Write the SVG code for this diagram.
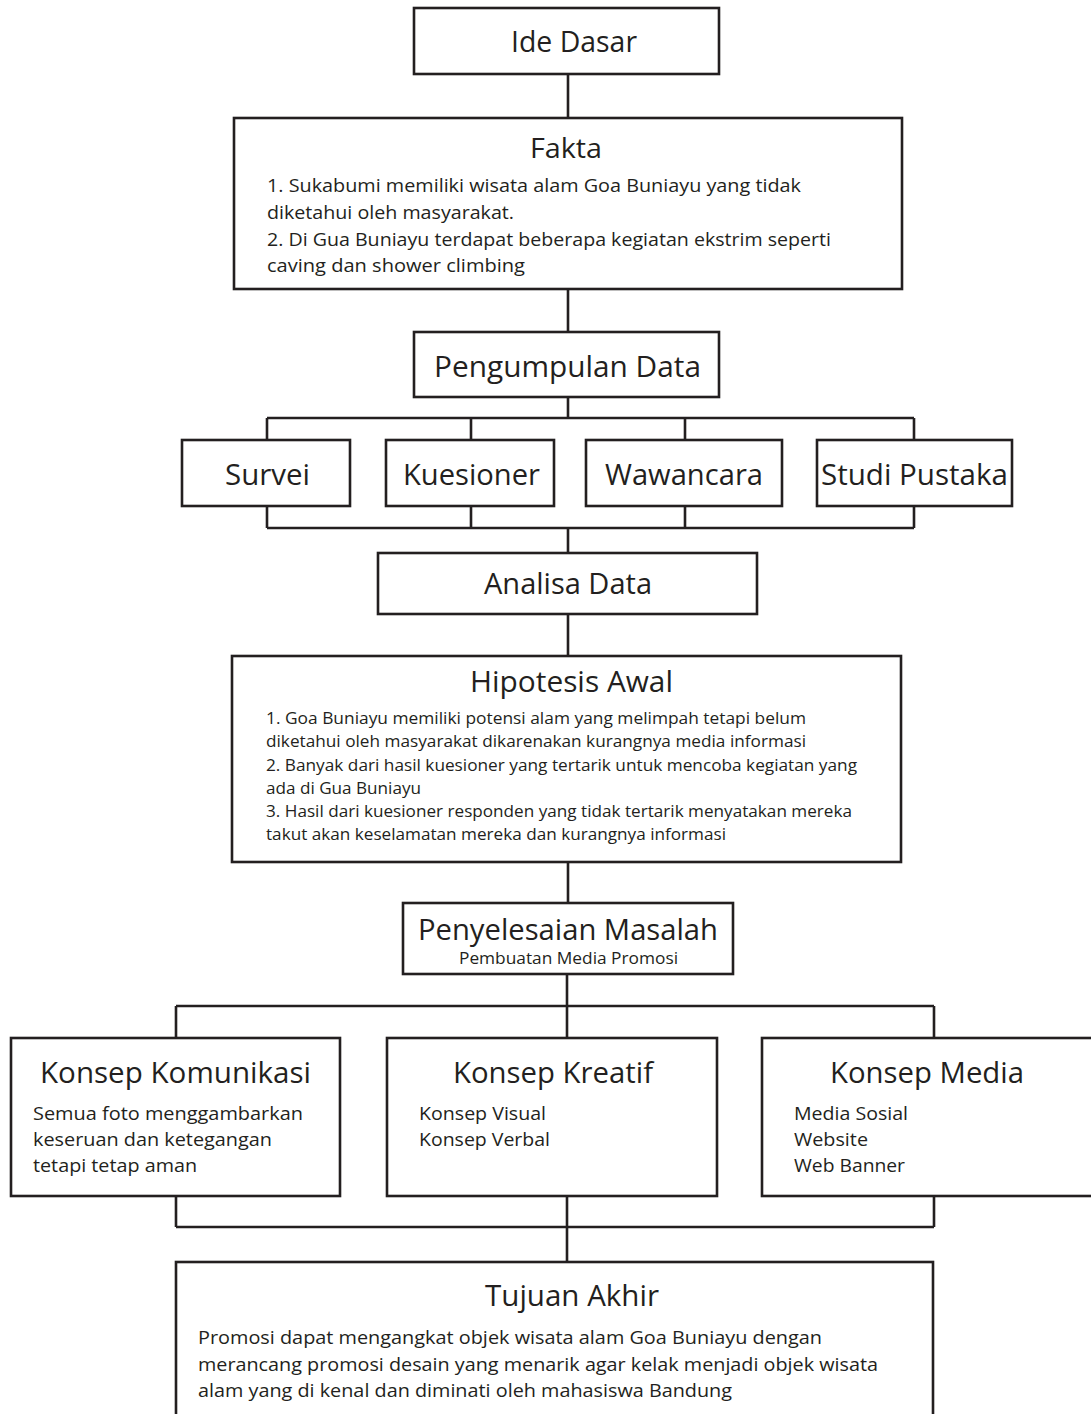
<svg xmlns="http://www.w3.org/2000/svg" width="1091" height="1414" viewBox="0 0 1091 1414">
<style>
rect.box{fill:#fff;stroke:#231f20;stroke-width:2.6}
#connectors path{fill:none;stroke:#231f20;stroke-width:2.6}
text{font-family:"Open Sans","Noto Sans","Liberation Sans",sans-serif;fill:#231f20}
.t{font-size:30px}
.t2{font-size:28px}
.b{font-size:19px}
.s{font-size:17px}
.sub{font-size:16px}
</style>
<rect width="1091" height="1414" fill="#fff"/>
<g id="connectors">
<path d="M568 74V118M568 289V332M568 397V418M267 418H914M267 418V440M471 418V440M685 418V440M914 418V440M267 506V528M471 506V528M685 506V528M914 506V528M267 528H914M568 528V553M568 614V656M568 862V903M567 974V1006M176 1006H934M176 1006V1038M567 1006V1038M934 1006V1038M176 1196V1227M567 1196V1227M934 1196V1227M176 1227H934M567 1227V1262"/>
</g>
<g id="ide-dasar"><rect class="box" x="414" y="8" width="305" height="66"/><text class="t" x="511" y="52" textLength="126" lengthAdjust="spacingAndGlyphs">Ide Dasar</text></g>
<g id="fakta"><rect class="box" x="234" y="118" width="668" height="171"/>
<text class="t2" x="530" y="158" textLength="72" lengthAdjust="spacingAndGlyphs">Fakta</text>
<text class="b" x="267" y="192" textLength="534" lengthAdjust="spacingAndGlyphs">1. Sukabumi memiliki wisata alam Goa Buniayu yang tidak</text>
<text class="b" x="267" y="219" textLength="247" lengthAdjust="spacingAndGlyphs">diketahui oleh masyarakat.</text>
<text class="b" x="267" y="246" textLength="564" lengthAdjust="spacingAndGlyphs">2. Di Gua Buniayu terdapat beberapa kegiatan ekstrim seperti</text>
<text class="b" x="267" y="272" textLength="258" lengthAdjust="spacingAndGlyphs">caving dan shower climbing</text></g>
<g id="pengumpulan-data"><rect class="box" x="414" y="332" width="305" height="65"/><text class="t" x="434" y="377" textLength="267" lengthAdjust="spacingAndGlyphs">Pengumpulan Data</text></g>
<g id="survei"><rect class="box" x="182" y="440" width="168" height="66"/><text class="t" x="225" y="485" textLength="85" lengthAdjust="spacingAndGlyphs">Survei</text></g>
<g id="kuesioner"><rect class="box" x="386" y="440" width="168" height="66"/><text class="t" x="403" y="485" textLength="137" lengthAdjust="spacingAndGlyphs">Kuesioner</text></g>
<g id="wawancara"><rect class="box" x="586" y="440" width="196" height="66"/><text class="t" x="605" y="485" textLength="158" lengthAdjust="spacingAndGlyphs">Wawancara</text></g>
<g id="studi-pustaka"><rect class="box" x="817" y="440" width="195" height="66"/><text class="t" x="821" y="485" textLength="187" lengthAdjust="spacingAndGlyphs">Studi Pustaka</text></g>
<g id="analisa-data"><rect class="box" x="378" y="553" width="379" height="61"/><text class="t" x="484" y="594" textLength="168" lengthAdjust="spacingAndGlyphs">Analisa Data</text></g>
<g id="hipotesis-awal"><rect class="box" x="232" y="656" width="669" height="206"/>
<text class="t" x="470" y="692" textLength="203" lengthAdjust="spacingAndGlyphs">Hipotesis Awal</text>
<text class="s" x="266" y="724" textLength="540" lengthAdjust="spacingAndGlyphs">1. Goa Buniayu memiliki potensi alam yang melimpah tetapi belum</text>
<text class="s" x="266" y="747" textLength="540" lengthAdjust="spacingAndGlyphs">diketahui oleh masyarakat dikarenakan kurangnya media informasi</text>
<text class="s" x="266" y="771" textLength="591" lengthAdjust="spacingAndGlyphs">2. Banyak dari hasil kuesioner yang tertarik untuk mencoba kegiatan yang</text>
<text class="s" x="266" y="794" textLength="155" lengthAdjust="spacingAndGlyphs">ada di Gua Buniayu</text>
<text class="s" x="266" y="817" textLength="586" lengthAdjust="spacingAndGlyphs">3. Hasil dari kuesioner responden yang tidak tertarik menyatakan mereka</text>
<text class="s" x="266" y="840" textLength="460" lengthAdjust="spacingAndGlyphs">takut akan keselamatan mereka dan kurangnya informasi</text></g>
<g id="penyelesaian-masalah"><rect class="box" x="403" y="903" width="330" height="71"/>
<text class="t" x="418" y="940" textLength="300" lengthAdjust="spacingAndGlyphs">Penyelesaian Masalah</text>
<text class="sub" x="459" y="964" textLength="219" lengthAdjust="spacingAndGlyphs">Pembuatan Media Promosi</text></g>
<g id="konsep-komunikasi"><rect class="box" x="11" y="1038" width="329" height="158"/>
<text class="t" x="40" y="1083" textLength="271" lengthAdjust="spacingAndGlyphs">Konsep Komunikasi</text>
<text class="b" x="33" y="1120" textLength="270" lengthAdjust="spacingAndGlyphs">Semua foto menggambarkan</text>
<text class="b" x="33" y="1146" textLength="239" lengthAdjust="spacingAndGlyphs">keseruan dan ketegangan</text>
<text class="b" x="33" y="1172" textLength="164" lengthAdjust="spacingAndGlyphs">tetapi tetap aman</text></g>
<g id="konsep-kreatif"><rect class="box" x="387" y="1038" width="330" height="158"/>
<text class="t" x="453" y="1083" textLength="200" lengthAdjust="spacingAndGlyphs">Konsep Kreatif</text>
<text class="b" x="419" y="1120" textLength="127" lengthAdjust="spacingAndGlyphs">Konsep Visual</text>
<text class="b" x="419" y="1146" textLength="131" lengthAdjust="spacingAndGlyphs">Konsep Verbal</text></g>
<g id="konsep-media"><rect class="box" x="762" y="1038" width="340" height="158"/>
<text class="t" x="830" y="1083" textLength="194" lengthAdjust="spacingAndGlyphs">Konsep Media</text>
<text class="b" x="794" y="1120" textLength="114" lengthAdjust="spacingAndGlyphs">Media Sosial</text>
<text class="b" x="794" y="1146" textLength="74" lengthAdjust="spacingAndGlyphs">Website</text>
<text class="b" x="794" y="1172" textLength="111" lengthAdjust="spacingAndGlyphs">Web Banner</text></g>
<g id="tujuan-akhir"><rect class="box" x="176" y="1262" width="757" height="170"/>
<text class="t" x="485" y="1306" textLength="174" lengthAdjust="spacingAndGlyphs">Tujuan Akhir</text>
<text class="b" x="198" y="1344" textLength="624" lengthAdjust="spacingAndGlyphs">Promosi dapat mengangkat objek wisata alam Goa Buniayu dengan</text>
<text class="b" x="198" y="1371" textLength="680" lengthAdjust="spacingAndGlyphs">merancang promosi desain yang menarik agar kelak menjadi objek wisata</text>
<text class="b" x="198" y="1397" textLength="534" lengthAdjust="spacingAndGlyphs">alam yang di kenal dan diminati oleh mahasiswa Bandung</text></g>
</svg>
